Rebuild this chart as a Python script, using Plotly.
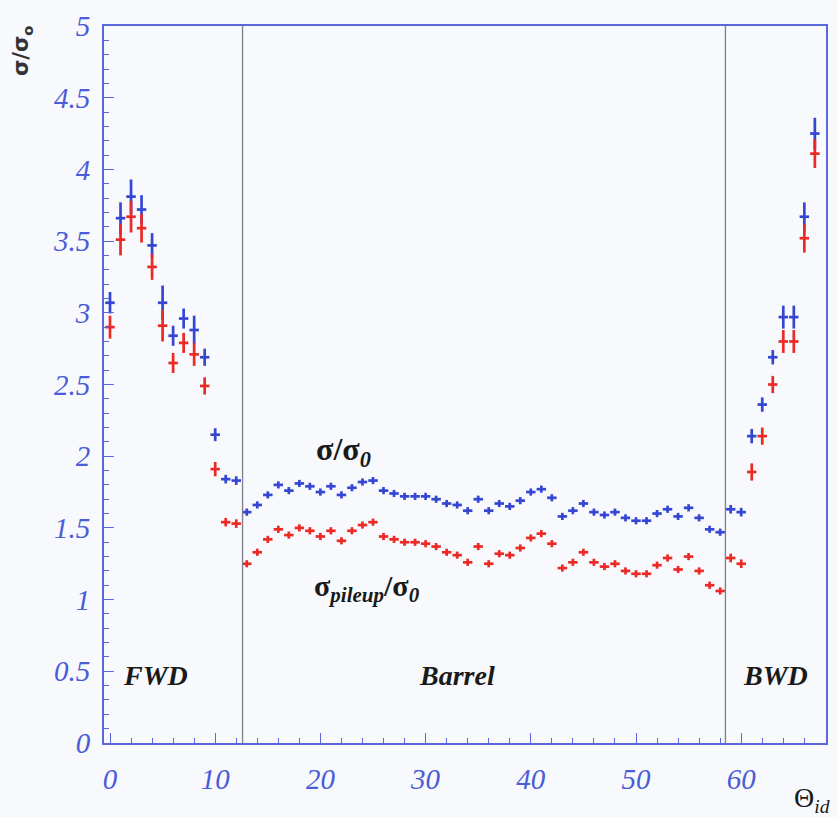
import plotly.graph_objects as go

theta_id = [0, 1, 2, 3, 4, 5, 6, 7, 8, 9, 10, 11, 12,
            13, 14, 15, 16, 17, 18, 19, 20, 21, 22, 23, 24, 25, 26, 27, 28, 29, 30,
            31, 32, 33, 34, 35, 36, 37, 38, 39, 40, 41, 42, 43, 44, 45, 46, 47, 48,
            49, 50, 51, 52, 53, 54, 55, 56, 57, 58,
            59, 60, 61, 62, 63, 64, 65, 66, 67]

sigma_ratio = [3.07, 3.66, 3.81, 3.72, 3.47, 3.07, 2.84, 2.96, 2.88, 2.69, 2.15, 1.84, 1.83,
               1.61, 1.66, 1.73, 1.80, 1.76, 1.81, 1.79, 1.75, 1.79, 1.73, 1.78, 1.82, 1.83, 1.76,
               1.74, 1.72, 1.72, 1.72, 1.70, 1.67, 1.66, 1.62, 1.70, 1.62, 1.67, 1.65, 1.69, 1.75,
               1.77, 1.71, 1.58, 1.62, 1.67, 1.61, 1.59, 1.61, 1.57, 1.55, 1.55, 1.60, 1.63, 1.58,
               1.64, 1.57, 1.49, 1.47,
               1.63, 1.61, 2.14, 2.36, 2.69, 2.97, 2.97, 3.67, 4.25]
sigma_err = [0.075, 0.11, 0.12, 0.10, 0.085, 0.12, 0.07, 0.07, 0.10, 0.06, 0.045, 0.03, 0.03,
             0.025, 0.025, 0.025, 0.025, 0.025, 0.025, 0.025, 0.025, 0.025, 0.025, 0.025, 0.025,
             0.025, 0.025, 0.025, 0.025, 0.025, 0.025, 0.025, 0.025, 0.025, 0.025, 0.025, 0.025,
             0.025, 0.025, 0.025, 0.025, 0.025, 0.025, 0.025, 0.025, 0.025, 0.025, 0.025, 0.025,
             0.025, 0.025, 0.025, 0.025, 0.025, 0.025, 0.025, 0.025, 0.025, 0.025,
             0.03, 0.03, 0.05, 0.05, 0.05, 0.08, 0.08, 0.10, 0.11]

pileup_ratio = [2.90, 3.51, 3.67, 3.59, 3.32, 2.91, 2.65, 2.79, 2.71, 2.49, 1.91, 1.54, 1.53,
                1.25, 1.33, 1.42, 1.49, 1.45, 1.50, 1.48, 1.44, 1.48, 1.41, 1.48, 1.52, 1.54, 1.44,
                1.42, 1.40, 1.40, 1.39, 1.37, 1.33, 1.31, 1.26, 1.37, 1.25, 1.32, 1.31, 1.36, 1.43,
                1.46, 1.39, 1.22, 1.26, 1.33, 1.26, 1.23, 1.25, 1.20, 1.18, 1.18, 1.24, 1.29, 1.21,
                1.30, 1.20, 1.10, 1.06,
                1.29, 1.25, 1.89, 2.14, 2.50, 2.80, 2.80, 3.52, 4.11]
pileup_err = [0.08, 0.11, 0.11, 0.10, 0.09, 0.11, 0.07, 0.07, 0.08, 0.06, 0.05, 0.03, 0.03,
              0.025, 0.025, 0.025, 0.025, 0.025, 0.025, 0.025, 0.025, 0.025, 0.025, 0.025, 0.025,
              0.025, 0.025, 0.025, 0.025, 0.025, 0.025, 0.025, 0.025, 0.025, 0.025, 0.025, 0.025,
              0.025, 0.025, 0.025, 0.025, 0.025, 0.025, 0.025, 0.025, 0.025, 0.025, 0.025, 0.025,
              0.025, 0.025, 0.025, 0.025, 0.025, 0.025, 0.025, 0.025, 0.025, 0.025,
              0.03, 0.03, 0.06, 0.06, 0.06, 0.08, 0.08, 0.10, 0.10]

region_bounds = [12.6, 58.5]
region_labels = ["FWD", "Barrel", "BWD"]
region_label_x = [4.3, 33.0, 63.3]
x_ticks = [0, 10, 20, 30, 40, 50, 60]
y_ticks = [0, 0.5, 1, 1.5, 2, 2.5, 3, 3.5, 4, 4.5, 5]
y_tick_text = ["0", "0.5", "1", "1.5", "2", "2.5", "3", "3.5", "4", "4.5", "5"]

BLUE = "#3446d2"
RED = "#ec2a25"
AXIS = "#5a68dc"
TICKFONT = "#4a5cd6"
BG = "#f7f9fd"
INK = "#1a1a1a"

W, H = 838, 817
ML, MR, MT, MB = 104, 10, 22, 74
PW, PH = W - ML - MR, H - MT - MB


def px_to_paper(px, py):
    return (px - ML) / PW, 1 - (py - MT) / PH


fig = go.Figure()
for yv, err, col in [(sigma_ratio, sigma_err, BLUE), (pileup_ratio, pileup_err, RED)]:
    fig.add_trace(go.Scatter(
        x=theta_id, y=yv, mode="markers",
        marker=dict(size=1, color=col, opacity=0),
        error_y=dict(type="data", array=err, color=col, thickness=2.7, width=0),
        error_x=dict(type="constant", value=0.45, color=col, thickness=2.7, width=0),
        showlegend=False, hoverinfo="x+y"))

for xb in region_bounds:
    fig.add_shape(type="line", x0=xb, x1=xb, y0=0, y1=5, xref="x", yref="y",
                  line=dict(color="#7d7f8a", width=1.3))

for lbl, lx in zip(region_labels, region_label_x):
    fig.add_annotation(x=lx, y=0.47, text="<b><i>%s</i></b>" % lbl, showarrow=False,
                       font=dict(family="Liberation Serif", size=28, color=INK))

fig.add_annotation(x=22.2, y=2.03, text="<b>σ/σ<sub><i>0</i></sub></b>", showarrow=False,
                   font=dict(family="Liberation Serif", size=32, color=INK))
fig.add_annotation(x=24.4, y=1.08,
                   text="<b>σ<sub><i>pileup</i></sub>/σ<sub><i>0</i></sub></b>",
                   showarrow=False, font=dict(family="Liberation Serif", size=30, color=INK))

yx, yy = px_to_paper(22, 47)
fig.add_annotation(x=yx, y=yy, xref="paper", yref="paper", xanchor="center", yanchor="middle",
                   text="<b>σ/σ<sub>o</sub></b>", textangle=-90, showarrow=False,
                   font=dict(family="DejaVu Sans", size=21, color="#333333"))
tx, ty = px_to_paper(814, 800)
fig.add_annotation(x=tx, y=ty, xref="paper", yref="paper", xanchor="center", yanchor="middle",
                   text="Θ<sub><i>id</i></sub>", showarrow=False,
                   font=dict(family="Liberation Serif", size=28, color=INK))

fig.update_layout(
    width=W, height=H,
    margin=dict(l=ML, r=MR, t=MT, b=MB),
    paper_bgcolor=BG, plot_bgcolor=BG,
    xaxis=dict(range=[-0.57, 68.06], showgrid=False, zeroline=False,
               showline=True, linecolor=AXIS, linewidth=2, mirror=True,
               tickmode="array", tickvals=x_ticks,
               ticks="inside", ticklen=10, tickcolor=AXIS, tickwidth=1,
               minor=dict(ticks="inside", ticklen=5, dtick=2, tickcolor=AXIS),
               tickfont=dict(family="Liberation Serif", size=29, color=TICKFONT, style="italic"),
               ticklabelstandoff=9),
    yaxis=dict(range=[0, 5], showgrid=False, zeroline=False,
               showline=True, linecolor=AXIS, linewidth=2, mirror=True,
               tickmode="array", tickvals=y_ticks, ticktext=y_tick_text,
               ticks="inside", ticklen=10, tickcolor=AXIS, tickwidth=1,
               minor=dict(ticks="inside", ticklen=5, dtick=0.1, tickcolor=AXIS),
               tickfont=dict(family="Liberation Serif", size=29, color=TICKFONT, style="italic"),
               ticklabelstandoff=6),
    font=dict(family="Liberation Serif"),
)
fig.write_html("out.html")
